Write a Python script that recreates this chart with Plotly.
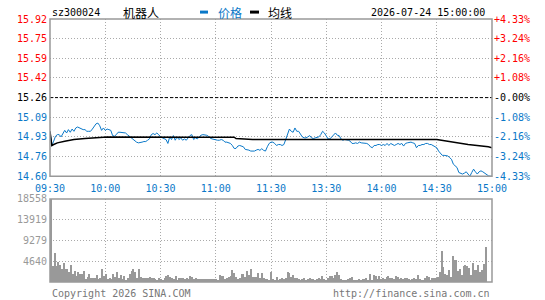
import plotly.graph_objects as go

# ---------------- data ----------------
prev_close = 15.26
time_ticks = [0, 30, 60, 90, 120, 150, 180, 210, 240]
time_labels = ["09:30", "10:00", "10:30", "11:00", "11:30", "13:30", "14:00", "14:30", "15:00"]

price = [
    14.977, 14.858, 14.894, 14.936, 14.949, 14.949, 14.930, 14.963, 14.985, 14.963,
    14.991, 14.969, 14.996, 14.977, 15.005, 15.013, 15.005, 14.996, 14.991, 14.991,
    14.977, 14.977, 14.977, 14.996, 15.018, 15.040, 15.046, 15.024, 14.985, 15.005,
    14.985, 14.996, 14.991, 14.985, 14.941, 14.936, 14.949, 14.969, 14.969, 14.969,
    14.969, 14.963, 14.949, 14.936, 14.927, 14.908, 14.902, 14.886, 14.880, 14.886,
    14.886, 14.891, 14.891, 14.902, 14.913, 14.949, 14.958, 14.949, 14.963, 14.949,
    14.930, 14.922, 14.913, 14.908, 14.875, 14.930, 14.908, 14.941, 14.902, 14.930,
    14.908, 14.922, 14.902, 14.913, 14.902, 14.922, 14.941, 14.949, 14.908, 14.922,
    14.913, 14.930, 14.944, 14.949, 14.949, 14.944, 14.936, 14.919, 14.913, 14.908,
    14.908, 14.902, 14.902, 14.908, 14.902, 14.886, 14.886, 14.880, 14.875, 14.858,
    14.833, 14.833, 14.853, 14.858, 14.853, 14.847, 14.825, 14.825, 14.819, 14.811,
    14.811, 14.811, 14.819, 14.825, 14.817, 14.831, 14.817, 14.811, 14.847, 14.875,
    14.886, 14.886, 14.875, 14.858, 14.866, 14.866, 14.858, 14.866, 14.908, 14.958,
    14.996, 14.977, 14.969, 15.005, 14.977, 14.977, 14.949, 14.930, 14.922, 14.922,
    14.930, 14.941, 14.922, 14.916, 14.922, 14.927, 14.930, 14.949, 14.977, 14.963,
    14.936, 14.913, 14.913, 14.930, 14.949, 14.963, 14.944, 14.941, 14.913, 14.902,
    14.908, 14.908, 14.902, 14.894, 14.875, 14.875, 14.880, 14.875, 14.886, 14.880,
    14.880, 14.875, 14.875, 14.866, 14.847, 14.839, 14.858, 14.858, 14.866, 14.866,
    14.858, 14.866, 14.858, 14.875, 14.858, 14.875, 14.866, 14.858, 14.866, 14.875,
    14.866, 14.875, 14.853, 14.875, 14.880, 14.886, 14.886, 14.880, 14.875, 14.839,
    14.858, 14.858, 14.866, 14.866, 14.875, 14.875, 14.866, 14.866, 14.858, 14.853,
    14.839, 14.811, 14.792, 14.775, 14.775, 14.770, 14.770, 14.756, 14.742, 14.701,
    14.687, 14.673, 14.631, 14.626, 14.618, 14.626, 14.637, 14.618, 14.600, 14.631,
    14.659, 14.637, 14.618, 14.637, 14.645, 14.637, 14.626, 14.609, 14.604, 14.600,
    14.600,
]

avg_minute = [0, 1, 2, 4, 8, 13, 19, 24, 31, 80, 100, 101, 110, 210, 220, 227, 238, 240]
avg_price = [14.977, 14.858, 14.866, 14.880, 14.894, 14.908, 14.916, 14.924, 14.930,
             14.927, 14.927, 14.916, 14.908, 14.908, 14.880, 14.866, 14.847, 14.839]

volume = [
    18558, 3600, 6600, 3600, 4560, 3800, 3000, 4200, 2900, 2900,
    2200, 3800, 1800, 2400, 1400, 2200, 1800, 1800, 2400, 700,
    1200, 1800, 800, 1000, 1000, 1500, 700, 1000, 2900, 1400,
    1800, 700, 1000, 700, 1800, 1200, 2200, 800, 1600, 600,
    1400, 500, 800, 1800, 2400, 3000, 2200, 1000, 2900, 1200,
    900, 900, 900, 1000, 1200, 1000, 800, 600, 500, 800,
    700, 500, 1000, 1400, 1600, 1200, 800, 700, 1400, 500,
    800, 800, 800, 600, 800, 600, 1300, 1200, 600, 900,
    660, 600, 700, 660, 600, 700, 660, 620, 660, 700,
    660, 370, 1620, 1400, 1250, 660, 880, 1030, 1250, 2720,
    1990, 1030, 740, 880, 1840, 1770, 1200, 2580, 1620, 2870,
    1030, 1030, 1030, 1990, 880, 2130, 880, 660, 660, 500,
    2210, 660, 370, 1030, 370, 660, 880, 600, 1000, 2210,
    1990, 1030, 1620, 880, 880, 660, 370, 660, 880, 370,
    660, 880, 660, 660, 370, 660, 880, 700, 1250, 660,
    370, 880, 1250, 1250, 900, 1620, 2210, 1620, 660, 370,
    370, 370, 660, 880, 1100, 370, 370, 370, 660, 370,
    660, 660, 880, 370, 1770, 370, 1620, 1250, 660, 1250,
    660, 880, 660, 1100, 1250, 880, 880, 660, 1250, 1100,
    660, 880, 660, 880, 800, 660, 370, 660, 880, 660,
    1620, 660, 370, 370, 880, 1250, 1100, 370, 880, 880,
    880, 1100, 2210, 6990, 3310, 1770, 1470, 2800, 1200, 5810,
    5000, 5000, 2360, 3020, 1500, 3610, 3750, 3610, 3090, 1600,
    4200, 2800, 2650, 3750, 2210, 2650, 3970, 7730, 0, 0,
    0,
]

price_ticks = [14.60, 14.765, 14.93, 15.095, 15.26, 15.425, 15.59, 15.755, 15.92]
price_labels = ["14.60", "14.76", "14.93", "15.09", "15.26", "15.42", "15.59", "15.75", "15.92"]
pct_ticks = [-4.325, -3.244, -2.163, -1.081, 0.0, 1.081, 2.163, 3.244, 4.325]
pct_labels = ["-4.33%", "-3.24%", "-2.16%", "-1.08%", "-0.00%", "+1.08%", "+2.16%", "+3.24%", "+4.33%"]
vol_ticks = [4639.5, 9279, 13918.5, 18558]
vol_labels = ["4640", "9279", "13919", "18558"]

# ---------------- styling ----------------
BLUE = "#0a78c8"
RED = "#ff0000"
GRAY = "#999999"
MONO = "DejaVu Sans Mono"
CJK = "Noto Sans CJK SC"

minutes = list(range(len(price)))


def colored(labels, values, mid):
    out = []
    for lab, v in zip(labels, values):
        c = RED if v > mid + 1e-9 else ("#000000" if abs(v - mid) < 1e-9 else BLUE)
        out.append(f'<span style="color:{c}">{lab}</span>')
    return out


fig = go.Figure()
fig.add_trace(go.Scatter(x=minutes, y=price, mode="lines", line=dict(color=BLUE, width=1),
                         xaxis="x", yaxis="y", name="价格", hoverinfo="skip"))
fig.add_trace(go.Scatter(x=avg_minute, y=avg_price, mode="lines", line=dict(color="#000000", width=1.5),
                         xaxis="x", yaxis="y", name="均线", hoverinfo="skip"))
fig.add_trace(go.Scatter(x=[0, 240], y=[pct_ticks[0], pct_ticks[-1]], mode="lines",
                         line=dict(width=0, color="rgba(0,0,0,0)"), xaxis="x", yaxis="y2",
                         hoverinfo="skip", showlegend=False))
fig.add_trace(go.Bar(x=minutes, y=volume, marker=dict(color=GRAY, line=dict(width=0)), width=0.55,
                     xaxis="x2", yaxis="y3", hoverinfo="skip"))

grid = dict(showgrid=True, gridcolor="#aaaaaa", griddash="1px,2px", gridwidth=1,
            zeroline=False, showline=False, ticks="")

top_dom = [0.4023, 1.0]
bot_dom = [0.0, 0.3158]

fig.update_layout(
    width=545, height=300,
    margin=dict(l=50, r=53, t=19, b=15),
    paper_bgcolor="white", plot_bgcolor="white",
    showlegend=False, bargap=0,
    font=dict(family=MONO, size=10, color="#000000"),
    xaxis=dict(domain=[0, 1], anchor="y", range=[0, 240], tickvals=time_ticks, ticktext=time_labels,
               tickfont=dict(family=MONO, size=10, color=BLUE), ticklabelstandoff=5, **grid),
    xaxis2=dict(domain=[0, 1], anchor="y3", range=[-0.5, 240.5], tickvals=time_ticks,
                showticklabels=False, **grid),
    yaxis=dict(domain=top_dom, anchor="x", range=[14.60, 15.92], tickvals=price_ticks,
               ticktext=colored(price_labels, price_ticks, prev_close),
               tickfont=dict(family=MONO, size=10), ticklabelstandoff=2, **grid),
    yaxis2=dict(domain=top_dom, anchor="x", overlaying="y", side="right",
                range=[pct_ticks[0], pct_ticks[-1]], tickvals=pct_ticks,
                ticktext=colored(pct_labels, pct_ticks, 0.0),
                tickfont=dict(family=MONO, size=10), showgrid=False, zeroline=False,
                showline=False, ticks="", ticklabelstandoff=1),
    yaxis3=dict(domain=bot_dom, anchor="x2", range=[0, 18558], tickvals=vol_ticks, ticktext=vol_labels,
                tickfont=dict(family=MONO, size=10, color=GRAY), ticklabelstandoff=2, **grid),
)

shapes = [
    dict(type="line", xref="x domain", yref="y", x0=0, x1=1, y0=prev_close, y1=prev_close,
         line=dict(color="#000000", width=1, dash="3px,2px")),
    dict(type="rect", xref="x domain", yref="y domain", x0=0, x1=1, y0=0, y1=1,
         line=dict(color=GRAY, width=1.5)),
    dict(type="rect", xref="x2 domain", yref="y3 domain", x0=0, x1=1, y0=0, y1=1,
         line=dict(color=GRAY, width=1.5)),
    # legend swatches
    dict(type="line", xref="paper", yref="paper", x0=0.3394, x1=0.3575, y0=1.0263, y1=1.0263,
         line=dict(color=BLUE, width=3)),
    dict(type="line", xref="paper", yref="paper", x0=0.4525, x1=0.4729, y0=1.0263, y1=1.0263,
         line=dict(color="#000000", width=3)),
]
fig.update_layout(shapes=shapes)

ann = [
    dict(text="sz300024", x=0, y=1.0263, xanchor="left", font=dict(family=MONO, size=10, color="#000")),
    dict(text="机器人", x=0.1606, y=1.0263, xanchor="left", font=dict(family=CJK, size=12, color="#000")),
    dict(text="价格", x=0.3756, y=1.0263, xanchor="left", font=dict(family=CJK, size=12, color=BLUE)),
    dict(text="均线", x=0.4887, y=1.0263, xanchor="left", font=dict(family=CJK, size=12, color="#000")),
    dict(text="2026-07-24 15:00:00", x=0.9887, y=1.0263, xanchor="right",
         font=dict(family=MONO, size=10, color="#000")),
    dict(text="Copyright 2026 SINA.COM", x=0, y=-0.0451, xanchor="left",
         font=dict(family=MONO, size=10, color="#777777")),
    dict(text="http://finance.sina.com.cn", x=1, y=-0.0451, xanchor="right",
         font=dict(family=MONO, size=10, color="#777777")),
]
for a in ann:
    a.update(xref="paper", yref="paper", yanchor="middle", showarrow=False)
fig.update_layout(annotations=ann)

fig.write_html("out.html")
